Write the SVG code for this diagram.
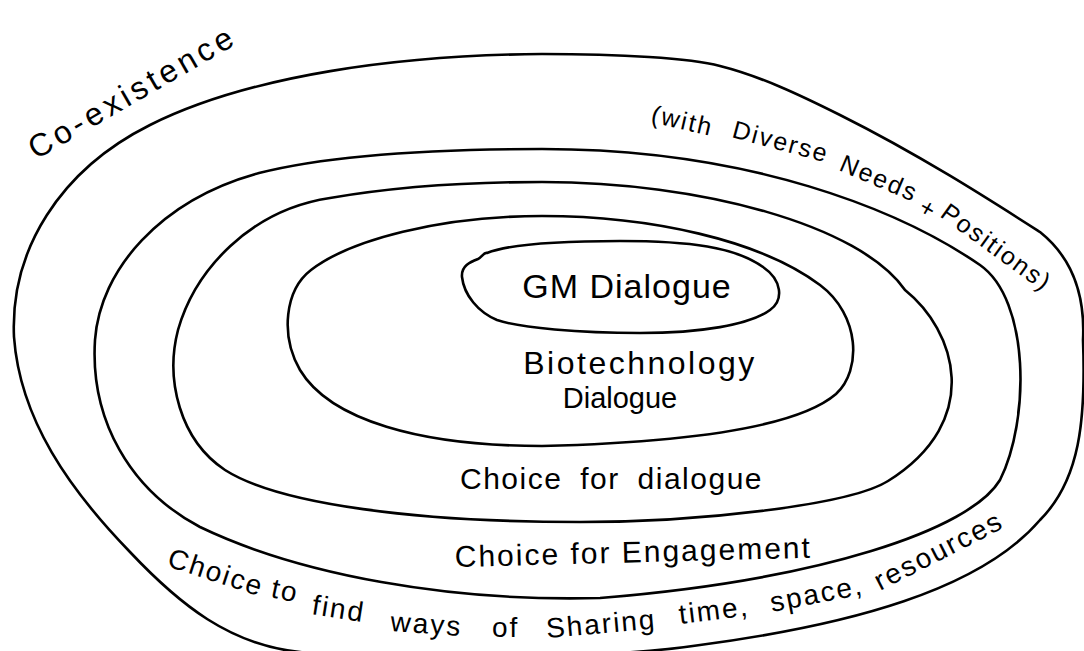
<svg xmlns="http://www.w3.org/2000/svg" width="1084" height="651" viewBox="0 0 1084 651">
<style>
.ring{fill:none;stroke:#000;stroke-width:2.6;stroke-linejoin:round;stroke-linecap:round}
.t{font-family:"Liberation Sans","Open Sans",Arial,sans-serif;fill:#000}
.top{font-size:25px;letter-spacing:2px}
.bot{font-size:28px;letter-spacing:2px}
</style>
<rect width="1084" height="651" fill="#fff"/>
<g id="coexistence">
<path class="ring" d="M14,337 C 10,250 60,170 150,125 C 250,75 400,55 542,54 C 620,54 690,58 720,66 C 760,76 800,95 840,115 C 920,155 990,200 1040,232 C 1075,260 1085,300 1083,340 C 1086,420 1080,480 1040,520 C 980,590 850,625 700,645 C 600,660 400,660 300,652 C 230,645 180,605 130,552 C 70,490 20,420 14,337 Z"/>
<text class="t" x="36" y="160" font-size="32" letter-spacing="4" transform="rotate(-30 36 160)">Co-existence</text>
<text class="t top" x="650" y="122" letter-spacing="3" transform="rotate(13 650 122)">(with</text>
<text class="t top" x="731" y="137" transform="rotate(15 731 137)">Diverse</text>
<text class="t top" x="838" y="170" letter-spacing="1" transform="rotate(23 838 170)">Needs</text>
<text class="t top" x="917" y="212" transform="rotate(30 917 212)">+</text>
<text class="t top" x="939" y="216" transform="rotate(36 939 216)">Positions)</text>
<text class="t bot" x="166" y="566" transform="rotate(18 166 566)">Choice</text>
<text class="t bot" x="270" y="597" transform="rotate(12 270 597)">to</text>
<text class="t bot" x="311" y="614" transform="rotate(9 311 614)">find</text>
<text class="t bot" x="390" y="631" letter-spacing="4" transform="rotate(4 390 631)">ways</text>
<text class="t bot" x="492" y="637" letter-spacing="4">of</text>
<text class="t bot" x="547" y="638" letter-spacing="3" transform="rotate(-5 547 638)">Sharing</text>
<text class="t bot" x="680" y="624" letter-spacing="3" transform="rotate(-7 680 624)">time,</text>
<text class="t bot" x="772" y="612" transform="rotate(-11 772 612)">space,</text>
<text class="t bot" x="880" y="591" letter-spacing="1.5" transform="rotate(-27 880 591)">resources</text>
</g>
<g id="engagement">
<path class="ring" d="M542,149 C 750,149 900,210 980,265 C 1030,300 1030,420 1000,480 C 970,530 820,580 600,598 C 450,602 300,575 200,527 C 130,490 90,420 95,340 C 100,270 160,200 259,173 C 330,155 430,149 542,149 Z"/>
<text class="t" x="455" y="567" font-size="30" letter-spacing="2" transform="rotate(-1.5 455 567)">Choice for Engagement</text>
</g>
<g id="dialogue-choice">
<path class="ring" d="M542,182 C 700,182 860,225 905,290 C 955,330 985,420 888,481 C 850,505 700,522 580,522 C 420,522 280,505 225,470 C 180,440 165,380 178,330 C 195,270 250,210 330,198 C 400,186 470,182 542,182 Z"/>
<text class="t" x="460" y="489" font-size="30" letter-spacing="1.5" word-spacing="8">Choice for dialogue</text>
</g>
<g id="biotechnology">
<path class="ring" d="M542,216 C 650,216 760,240 820,285 C 860,315 862,370 836,394 C 800,425 700,442 542,446 C 420,446 330,420 300,370 C 280,335 285,290 311,270 C 350,240 440,216 542,216 Z"/>
<text class="t" x="640" y="374" font-size="32" letter-spacing="2.5" text-anchor="middle">Biotechnology</text>
<text class="t" x="620" y="408" font-size="29" text-anchor="middle">Dialogue</text>
</g>
<g id="gm-dialogue">
<path class="ring" d="M487,253 C 510,244 560,241 620,241 C 690,241 735,247 763,267 C 782,280 784,300 770,310 C 750,325 700,333 640,333 C 580,333 520,328 497,320 C 478,312 464,295 462,277 C 461,266 470,262 478,259 C 482,257 484,252 487,253 Z"/>
<text class="t" x="627" y="298" font-size="34" letter-spacing="1" text-anchor="middle">GM Dialogue</text>
</g>
<g id="connectors"/>
</svg>
